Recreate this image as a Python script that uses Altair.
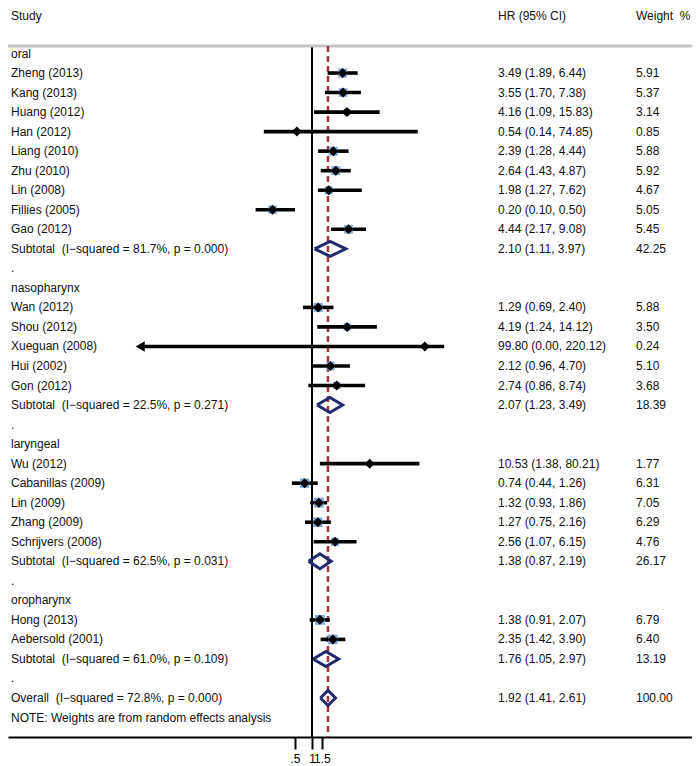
import math
import altair as alt
import pandas as pd

# ---------------- data ----------------
groups = ["oral", "nasopharynx", "laryngeal", "oropharynx"]

study_names = [
    "Zheng (2013)", "Kang (2013)", "Huang (2012)", "Han (2012)", "Liang (2010)",
    "Zhu (2010)", "Lin (2008)", "Fillies (2005)", "Gao (2012)",
    "Wan (2012)", "Shou (2012)", "Xueguan (2008)", "Hui (2002)", "Gon (2012)",
    "Wu (2012)", "Cabanillas (2009)", "Lin (2009)", "Zhang (2009)", "Schrijvers (2008)",
    "Hong (2013)", "Aebersold (2001)",
]
study_group = [0] * 9 + [1] * 5 + [2] * 5 + [3] * 2
study_hr = [3.49, 3.55, 4.16, 0.54, 2.39, 2.64, 1.98, 0.20, 4.44,
            1.29, 4.19, 99.80, 2.12, 2.74,
            10.53, 0.74, 1.32, 1.27, 2.56,
            1.38, 2.35]
study_lcl = [1.89, 1.70, 1.09, 0.14, 1.28, 1.43, 1.27, 0.10, 2.17,
             0.69, 1.24, 0.00, 0.96, 0.86,
             1.38, 0.44, 0.93, 0.75, 1.07,
             0.91, 1.42]
study_ucl = [6.44, 7.38, 15.83, 74.85, 4.44, 4.87, 7.62, 0.50, 9.08,
             2.40, 14.12, 220.12, 4.70, 8.74,
             80.21, 1.26, 1.86, 2.16, 6.15,
             2.07, 3.90]
study_weight = [5.91, 5.37, 3.14, 0.85, 5.88, 5.92, 4.67, 5.05, 5.45,
                5.88, 3.50, 0.24, 5.10, 3.68,
                1.77, 6.31, 7.05, 6.29, 4.76,
                6.79, 6.40]

sub_hr = [2.10, 2.07, 1.38, 1.76]
sub_lcl = [1.11, 1.23, 0.87, 1.05]
sub_ucl = [3.97, 3.49, 2.19, 2.97]
sub_weight = [42.25, 18.39, 26.17, 13.19]
sub_i2 = ["81.7%", "22.5%", "62.5%", "61.0%"]
sub_p = ["0.000", "0.271", "0.031", "0.109"]

overall_hr, overall_lcl, overall_ucl, overall_weight = 1.92, 1.41, 2.61, 100.00
overall_i2, overall_p = "72.8%", "0.000"

axis_ticks = [0.5, 1, 1.5]
axis_labels = [".5", "1", "1.5"]
ci_clip_low = 0.0009   # lower CI bounds below this are drawn as an arrow

# ---------------- layout ----------------
FONT = "Liberation Sans, Arial"
FS = 12
W, H = 684, 729
ROW = 19.53
ROW0 = 45.5
X1 = 304
PX_PER_LN = 24.5
x_lo = math.exp(-X1 / PX_PER_LN)
x_hi = math.exp((W - X1) / PX_PER_LN)
y_top = -ROW0 / ROW
y_bot = (H - ROW0) / ROW
HEADER_I = y_top + 8 / ROW
LINE_I = y_top + 38 / ROW
DIA_H = 7.5 / ROW

xscale = alt.Scale(type="log", domain=[x_lo, x_hi], nice=False)
yscale = alt.Scale(domain=[y_top, y_bot], reverse=True, nice=False, zero=False)

lab_map = ", ".join(f"'{v}': '{l}'" for v, l in zip(axis_ticks, axis_labels))
xaxis = alt.Axis(values=axis_ticks, labelExpr="{" + lab_map + "}[datum.value]",
                 domainColor="black", domainWidth=2, tickColor="black", tickWidth=2,
                 tickSize=12, labelFontSize=12, labelFont=FONT, labelColor="black",
                 labelPadding=4, labelOverlap=False, labelFlush=False, grid=False,
                 title=None)

# ---------------- build rows ----------------
text_rows, study_rows, dia_rows = [], [], []
i = 0
nbsp = "\u00a0"
for g, gname in enumerate(groups):
    text_rows.append(dict(i=i, label=gname, hrt="", wt=""))
    i += 1
    for k in range(len(study_names)):
        if study_group[k] != g:
            continue
        text_rows.append(dict(i=i, label=study_names[k],
                              hrt=f"{study_hr[k]:.2f} ({study_lcl[k]:.2f}, {study_ucl[k]:.2f})",
                              wt=f"{study_weight[k]:.2f}"))
        study_rows.append(dict(i=i, hr=study_hr[k], lcl=max(study_lcl[k], ci_clip_low),
                               ucl=study_ucl[k], w=study_weight[k],
                               clipped=study_lcl[k] < ci_clip_low))
        i += 1
    text_rows.append(dict(i=i, label=f"Subtotal{nbsp} (I\u2212squared = {sub_i2[g]}, p = {sub_p[g]})",
                          hrt=f"{sub_hr[g]:.2f} ({sub_lcl[g]:.2f}, {sub_ucl[g]:.2f})",
                          wt=f"{sub_weight[g]:.2f}"))
    dia_rows.append(dict(i=i, hr=sub_hr[g], lcl=sub_lcl[g], ucl=sub_ucl[g], d=f"s{g}"))
    i += 1
    text_rows.append(dict(i=i, label=".", hrt="", wt=""))
    i += 1
text_rows.append(dict(i=i, label=f"Overall{nbsp} (I\u2212squared = {overall_i2}, p = {overall_p})",
                      hrt=f"{overall_hr:.2f} ({overall_lcl:.2f}, {overall_ucl:.2f})",
                      wt=f"{overall_weight:.2f}"))
dia_rows.append(dict(i=i, hr=overall_hr, lcl=overall_lcl, ucl=overall_ucl, d="overall"))
i += 1
text_rows.append(dict(i=i, label="NOTE: Weights are from random effects analysis", hrt="", wt=""))

text_df = pd.DataFrame(text_rows)
study_df = pd.DataFrame(study_rows)

poly = []
for d in dia_rows:
    pts = [(d["lcl"], d["i"]), (d["hr"], d["i"] - DIA_H), (d["ucl"], d["i"]),
           (d["hr"], d["i"] + DIA_H), (d["lcl"], d["i"])]
    for o, (xv, yv) in enumerate(pts):
        poly.append(dict(d=d["d"], o=o, x=xv, y=yv))
poly_df = pd.DataFrame(poly)

header_df = pd.DataFrame([dict(i=HEADER_I, a="Study", b="HR (95% CI)", c=f"Weight{nbsp}{nbsp}%")])

# ---------------- layers ----------------
Y = lambda f: alt.Y(f, scale=yscale, axis=None)

gray_line = alt.Chart(header_df).mark_rule(color="#c4c4c4", strokeWidth=3).encode(
    x=alt.value(0), x2=alt.value(W), y=alt.Y(datum=LINE_I, scale=yscale, axis=None))

null_line = alt.Chart(header_df).mark_rule(color="black", strokeWidth=2).encode(
    x=alt.X(datum=1, scale=xscale, axis=xaxis),
    y=alt.Y(datum=LINE_I, scale=yscale, axis=None), y2=alt.Y2(datum=y_bot))

overall_line = alt.Chart(header_df).mark_rule(color="#a0363c", strokeWidth=2.5,
                                              strokeDash=[6, 4]).encode(
    x=alt.X(datum=overall_hr, scale=xscale, axis=xaxis),
    y=alt.Y(datum=LINE_I, scale=yscale, axis=None), y2=alt.Y2(datum=y_bot))

ci = alt.Chart(study_df).mark_rule(color="black", strokeWidth=3.6, strokeCap="butt").encode(
    x=alt.X("lcl:Q", scale=xscale, axis=xaxis), x2="ucl:Q", y=Y("i:Q"))

boxes = alt.Chart(study_df).mark_square(color="#6c9bd3", opacity=0.85).encode(
    x=alt.X("hr:Q", scale=xscale, axis=xaxis), y=Y("i:Q"),
    size=alt.Size("w:Q", scale=alt.Scale(type="linear", domain=[0, 10], range=[0, 140]),
                  legend=None))

points = alt.Chart(study_df).mark_point(shape="diamond", filled=True, color="black",
                                        opacity=1, size=100).encode(
    x=alt.X("hr:Q", scale=xscale, axis=xaxis), y=Y("i:Q"))

arrows = alt.Chart(study_df).transform_filter("datum.clipped").mark_point(
    shape="triangle-left", filled=True, color="black", opacity=1, size=110).encode(
    x=alt.X("lcl:Q", scale=xscale, axis=xaxis), y=Y("i:Q"))

diamonds = alt.Chart(poly_df).mark_line(color="#222a6e", strokeWidth=3,
                                        strokeJoin="miter").encode(
    x=alt.X("x:Q", scale=xscale, axis=xaxis), y=Y("y:Q"), detail="d:N", order="o:Q")

txt = dict(font=FONT, fontSize=FS, color="#111", baseline="middle", align="left")
lab = alt.Chart(text_df).mark_text(**txt).encode(x=alt.value(3), y=Y("i:Q"), text="label:N")
hrt = alt.Chart(text_df).mark_text(**txt).encode(x=alt.value(490), y=Y("i:Q"), text="hrt:N")
wtt = alt.Chart(text_df).mark_text(**txt).encode(x=alt.value(628), y=Y("i:Q"), text="wt:N")

h1 = alt.Chart(header_df).mark_text(**txt).encode(x=alt.value(3), y=Y("i:Q"), text="a:N")
h2 = alt.Chart(header_df).mark_text(**txt).encode(x=alt.value(490), y=Y("i:Q"), text="b:N")
h3 = alt.Chart(header_df).mark_text(**txt).encode(x=alt.value(628), y=Y("i:Q"), text="c:N")

chart = alt.layer(
    null_line, gray_line, overall_line, ci, boxes, points, arrows, diamonds,
    lab, hrt, wtt, h1, h2, h3
).properties(
    width=W, height=H,
    autosize=alt.AutoSizeParams(type="none"),
    padding={"left": 0, "top": 0, "right": 0, "bottom": 29},
    background="white",
).configure_view(stroke=None)

chart.save("out.html", embed_options={"renderer": "svg", "actions": False})
